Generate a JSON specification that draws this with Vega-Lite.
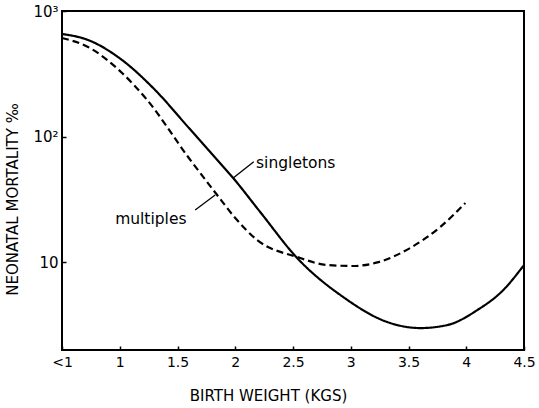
{
  "$schema": "https://vega.github.io/schema/vega-lite/v6.json",
  "width": 462,
  "height": 339,
  "autosize": {"type": "none"},
  "padding": {"left": 62, "top": 11, "right": 15, "bottom": 58},
  "background": "white",
  "config": {
    "view": {"stroke": "black", "strokeWidth": 2},
    "font": "DejaVu Sans",
    "axis": {"grid": false, "domain": false, "tickColor": "black", "tickWidth": 1.5, "labelColor": "black", "titleColor": "black", "labelFont": "DejaVu Sans", "titleFont": "DejaVu Sans", "titleFontWeight": "normal"}
  },
  "layer": [
    {
      "data": {"values": [
        {"w": 0.5, "m": 656, "s": "singletons"},
        {"w": 0.725, "m": 588, "s": "singletons"},
        {"w": 1.02, "m": 407, "s": "singletons"},
        {"w": 1.306, "m": 235, "s": "singletons"},
        {"w": 1.592, "m": 119, "s": "singletons"},
        {"w": 1.826, "m": 68, "s": "singletons"},
        {"w": 1.982, "m": 46.8, "s": "singletons"},
        {"w": 2.216, "m": 25.1, "s": "singletons"},
        {"w": 2.536, "m": 10.8, "s": "singletons"},
        {"w": 2.935, "m": 5.28, "s": "singletons"},
        {"w": 3.316, "m": 3.34, "s": "singletons"},
        {"w": 3.602, "m": 2.99, "s": "singletons"},
        {"w": 3.836, "m": 3.16, "s": "singletons"},
        {"w": 4.096, "m": 4.16, "s": "singletons"},
        {"w": 4.321, "m": 6.01, "s": "singletons"},
        {"w": 4.5, "m": 9.5, "s": "singletons"},
        {"w": 0.5, "m": 610, "s": "multiples"},
        {"w": 0.725, "m": 517, "s": "multiples"},
        {"w": 1.02, "m": 321, "s": "multiples"},
        {"w": 1.237, "m": 196, "s": "multiples"},
        {"w": 1.592, "m": 68.8, "s": "multiples"},
        {"w": 1.843, "m": 34.3, "s": "multiples"},
        {"w": 2.0, "m": 22.5, "s": "multiples"},
        {"w": 2.19, "m": 15.0, "s": "multiples"},
        {"w": 2.536, "m": 11.0, "s": "multiples"},
        {"w": 2.796, "m": 9.5, "s": "multiples"},
        {"w": 3.022, "m": 9.33, "s": "multiples"},
        {"w": 3.23, "m": 9.96, "s": "multiples"},
        {"w": 3.516, "m": 13.0, "s": "multiples"},
        {"w": 3.776, "m": 19.1, "s": "multiples"},
        {"w": 3.992, "m": 29.6, "s": "multiples"}
      ]},
      "mark": {"type": "line", "color": "black", "strokeWidth": 2.2, "interpolate": "monotone"},
      "encoding": {
        "x": {"field": "w", "type": "quantitative", "scale": {"domain": [0.5, 4.5], "nice": false, "zero": false},
          "axis": {"values": [0.5, 1, 1.5, 2, 2.5, 3, 3.5, 4, 4.5], "labelExpr": "datum.value == 0.5 ? '<1' : format(datum.value, '')", "title": "BIRTH WEIGHT (KGS)", "tickSize": -4, "labelPadding": 9, "labelFontSize": 14, "titleFontSize": 15, "titleX": 206, "titleY": 45, "titleBaseline": "middle", "labelFlush": false}},
        "y": {"field": "m", "type": "quantitative", "scale": {"type": "log", "domain": [2, 1000], "nice": false},
          "axis": {"values": [10, 100, 1000], "labelExpr": "datum.value == 1000 ? '10³' : datum.value == 100 ? '10²' : '10'", "title": "NEONATAL MORTALITY ‰", "tickSize": -4, "labelPadding": 8, "labelFontSize": 15, "titleFontSize": 15, "titleX": -42, "titleY": 188, "labelFlush": false}},
        "strokeDash": {"field": "s", "type": "nominal", "scale": {"domain": ["singletons", "multiples"], "range": [[1, 0], [7, 4]]}, "legend": null},
        "detail": {"field": "s"}
      }
    },
    {
      "data": {"values": [
        {"x1": 2.16, "y1": 63, "x2": 1.985, "y2": 47},
        {"x1": 1.653, "y1": 26, "x2": 1.826, "y2": 34.3}
      ]},
      "mark": {"type": "rule", "color": "black", "strokeWidth": 1.3},
      "encoding": {
        "x": {"field": "x1", "type": "quantitative"},
        "y": {"field": "y1", "type": "quantitative"},
        "x2": {"field": "x2"},
        "y2": {"field": "y2"}
      }
    },
    {
      "data": {"values": [
        {"x": 2.18, "y": 61.6, "t": "singletons"},
        {"x": 0.96, "y": 22.1, "t": "multiples"}
      ]},
      "mark": {"type": "text", "align": "left", "baseline": "middle", "fontSize": 15.5, "color": "black", "font": "DejaVu Sans"},
      "encoding": {
        "x": {"field": "x", "type": "quantitative"},
        "y": {"field": "y", "type": "quantitative"},
        "text": {"field": "t"}
      }
    }
  ]
}
